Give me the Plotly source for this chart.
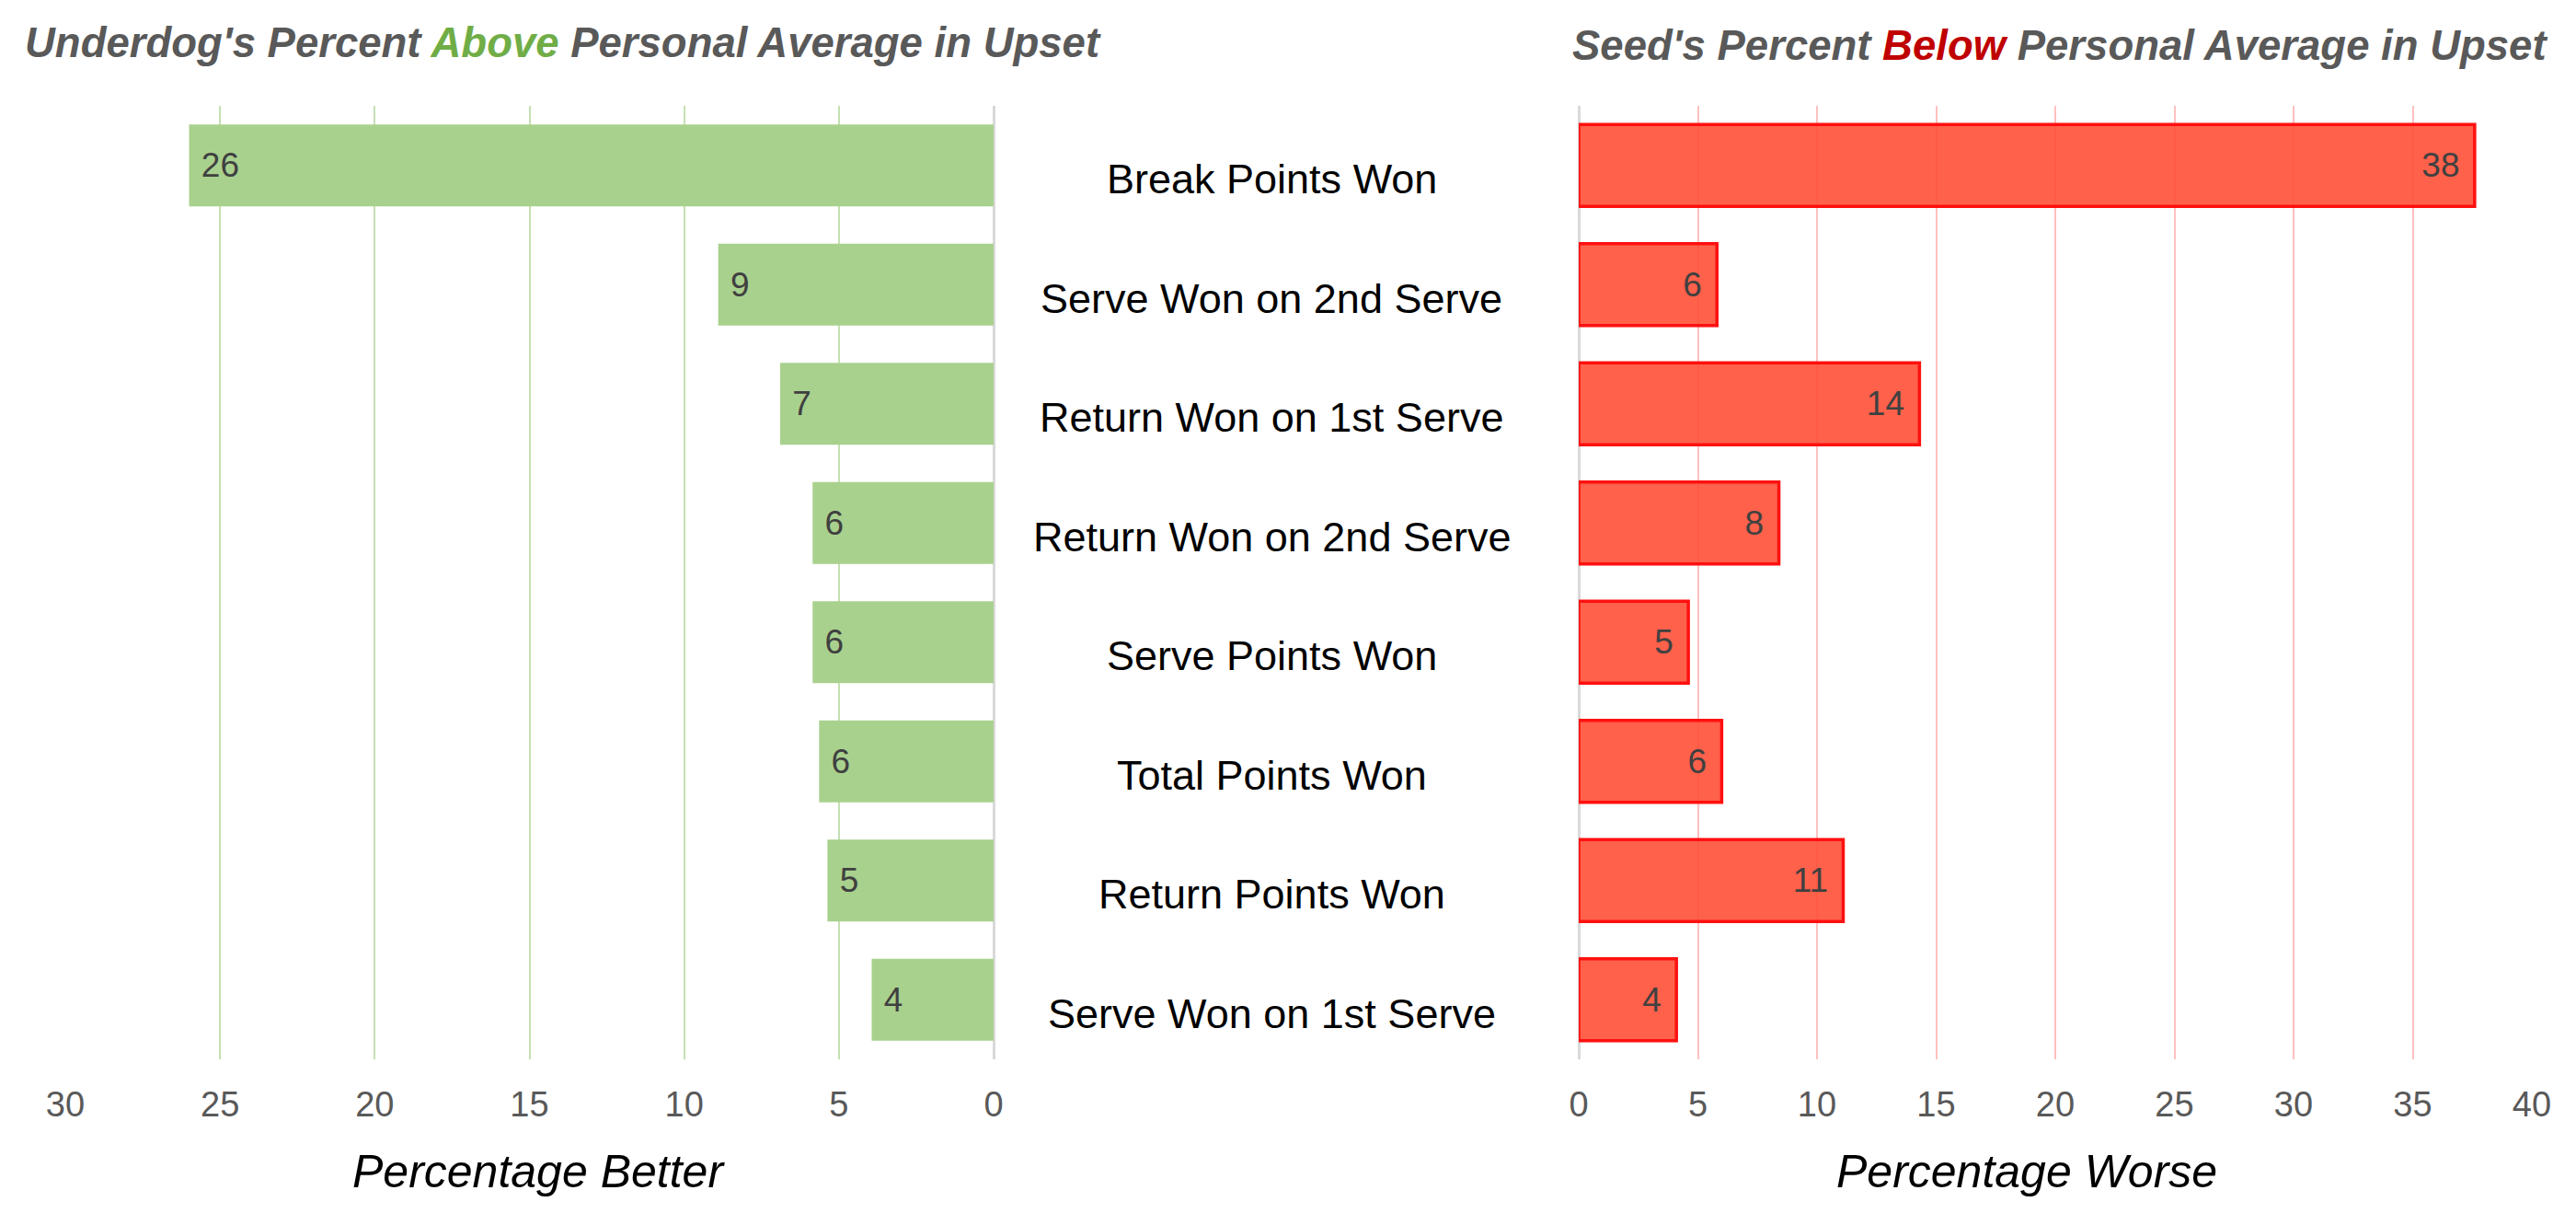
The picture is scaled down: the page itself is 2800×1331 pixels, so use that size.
import plotly.graph_objects as go

categories = [
    "Break Points Won",
    "Serve Won on 2nd Serve",
    "Return Won on 1st Serve",
    "Return Won on 2nd Serve",
    "Serve Points Won",
    "Total Points Won",
    "Return Points Won",
    "Serve Won on 1st Serve",
]
underdog_better = [26.0, 8.9, 6.9, 5.85, 5.85, 5.64, 5.37, 3.94]
seed_worse = [37.6, 5.8, 14.3, 8.4, 4.6, 6.0, 11.1, 4.1]
left_ticks = [0, 5, 10, 15, 20, 25, 30]
right_ticks = [0, 5, 10, 15, 20, 25, 30, 35, 40]

FONT = "Liberation Sans"
W, H = 2800, 1331
ML, MR, MT, MB = 71, 48, 115, 180
PW = W - ML - MR
PH = H - MT - MB


def px_x(px):
    return (px - ML) / PW


def px_y(py):
    return (H - MB - py) / PH


left_labels = [f"{v:.0f}" for v in underdog_better]
right_labels = [f"{v:.0f}" for v in seed_worse]

fig = go.Figure()
fig.add_trace(go.Bar(
    x=underdog_better, y=categories, orientation="h",
    xaxis="x", yaxis="y",
    marker=dict(color="#A9D18E", line=dict(width=0)),
    text=left_labels, texttemplate="&nbsp;%{text}",
    textposition="inside", insidetextanchor="end", textangle=0,
    textfont=dict(family=FONT, size=37, color="#404040"),
    hoverinfo="skip", showlegend=False,
))
fig.add_trace(go.Bar(
    x=seed_worse, y=categories, orientation="h",
    xaxis="x2", yaxis="y2",
    marker=dict(color="rgba(255,80,55,0.9)", line=dict(color="#FF1010", width=3.5)),
    text=right_labels, texttemplate="%{text}&nbsp;&#8202;",
    textposition="inside", insidetextanchor="end", textangle=0,
    textfont=dict(family=FONT, size=37, color="#404040"),
    hoverinfo="skip", showlegend=False,
))

left_dom = [0, px_x(1080)]
right_dom = [px_x(1716), 1]

fig.update_layout(
    width=W, height=H,
    margin=dict(l=ML, r=MR, t=MT, b=MB),
    paper_bgcolor="white", plot_bgcolor="white",
    bargap=0.313,
    font=dict(family=FONT, color="#595959"),
    xaxis=dict(
        domain=left_dom, range=[30, 0], tickvals=left_ticks,
        showgrid=True, gridcolor="#C5E0B4", gridwidth=2,
        zeroline=True, zerolinecolor="#D9D9D9", zerolinewidth=2.5,
        showline=False, ticks="",
        tickfont=dict(family=FONT, size=38, color="#595959"),
        ticklabelstandoff=23,
    ),
    yaxis=dict(
        domain=[0, 1], autorange="reversed", showticklabels=False,
        showgrid=False, zeroline=False, showline=False, ticks="",
    ),
    xaxis2=dict(
        domain=right_dom, range=[0, 40], tickvals=right_ticks,
        showgrid=True, gridcolor="#FFC0C0", gridwidth=2,
        zeroline=True, zerolinecolor="#D9D9D9", zerolinewidth=2.5,
        showline=False, ticks="",
        tickfont=dict(family=FONT, size=38, color="#595959"),
        ticklabelstandoff=23,
    ),
    yaxis2=dict(
        domain=[0, 1], anchor="x2", autorange="reversed", showticklabels=False,
        showgrid=False, zeroline=False, showline=False, ticks="",
    ),
)

annotations = []
for c in categories:
    annotations.append(dict(
        x=px_x(1382), xref="paper", y=c, yref="y", yshift=-15,
        text=c, showarrow=False, xanchor="center", yanchor="middle",
        font=dict(family=FONT, size=45, color="#000000"),
    ))

annotations.append(dict(
    x=px_x(25), xref="paper", y=px_y(47), yref="paper",
    xanchor="left", yanchor="middle", showarrow=False,
    text="<b><i>Underdog's Percent <span style='color:#70AD47'>Above</span> Personal Average in Upset</i></b>",
    font=dict(family=FONT, size=45.5, color="#595959"),
))
annotations.append(dict(
    x=px_x(2771), xref="paper", y=px_y(50), yref="paper",
    xanchor="right", yanchor="middle", showarrow=False,
    text="<b><i>Seed's Percent <span style='color:#C00000'>Below</span> Personal Average in Upset</i></b>",
    font=dict(family=FONT, size=45.5, color="#595959"),
))
annotations.append(dict(
    x=px_x(585), xref="paper", y=px_y(1273), yref="paper",
    xanchor="center", yanchor="middle", showarrow=False,
    text="<i>Percentage Better</i>",
    font=dict(family=FONT, size=50, color="#000000"),
))
annotations.append(dict(
    x=px_x(2203), xref="paper", y=px_y(1273), yref="paper",
    xanchor="center", yanchor="middle", showarrow=False,
    text="<i>Percentage Worse</i>",
    font=dict(family=FONT, size=50, color="#000000"),
))
fig.update_layout(annotations=annotations)

fig.write_html(
    "out.html",
    config={"displayModeBar": False},
    post_script="document.body.style.margin='0';",
)
